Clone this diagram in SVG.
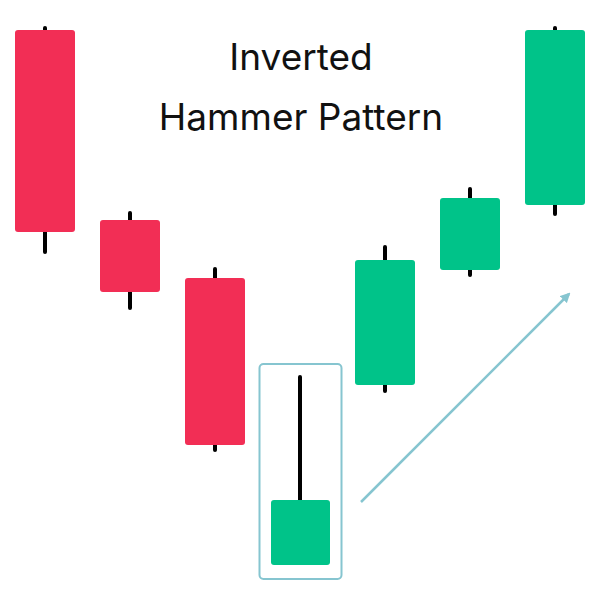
<svg xmlns="http://www.w3.org/2000/svg" width="600" height="600" viewBox="0 0 600 600">
<style>
.red{fill:#f22e55}.green{fill:#00c389}.wick{stroke:#000;stroke-width:4;stroke-linecap:round}
.t{font-family:Inter,"Liberation Sans",sans-serif;font-size:37px;fill:#111;text-anchor:middle}
</style>
<defs><marker id="ah" markerWidth="10" markerHeight="10" refX="8" refY="5" orient="auto" markerUnits="userSpaceOnUse" viewBox="0 0 10 10"><path d="M0,0L10,5L0,10z" fill="#86c5d0"/></marker></defs>
<rect width="600" height="600" fill="#fff"/>
<text class="t" x="301" y="70">Inverted</text>
<text class="t" x="301" y="130">Hammer Pattern</text>
<g id="c1"><line class="wick" x1="45" y1="28" x2="45" y2="252"/><rect class="red" x="15" y="30" width="60" height="202" rx="3"/></g>
<g id="c2"><line class="wick" x1="130" y1="213" x2="130" y2="308"/><rect class="red" x="100" y="220" width="60" height="72" rx="3"/></g>
<g id="c3"><line class="wick" x1="215" y1="269" x2="215" y2="450"/><rect class="red" x="185" y="278" width="60" height="167" rx="3"/></g>
<g id="c4"><rect x="259.5" y="364" width="82" height="215" rx="4" fill="none" stroke="#86c5d0" stroke-width="2"/><line class="wick" x1="300" y1="377" x2="300" y2="502"/><rect class="green" x="271" y="500" width="59" height="65" rx="3"/></g>
<g id="c5"><line class="wick" x1="385" y1="247" x2="385" y2="391"/><rect class="green" x="355" y="260" width="60" height="125" rx="3"/></g>
<g id="c6"><line class="wick" x1="470" y1="189" x2="470" y2="275"/><rect class="green" x="440" y="198" width="60" height="72" rx="3"/></g>
<g id="c7"><line class="wick" x1="555" y1="28" x2="555" y2="214"/><rect class="green" x="525" y="30" width="60" height="175" rx="3"/></g>
<g id="connectors"><line x1="361" y1="502" x2="569" y2="294" stroke="#86c5d0" stroke-width="2.5" marker-end="url(#ah)"/></g>
</svg>
